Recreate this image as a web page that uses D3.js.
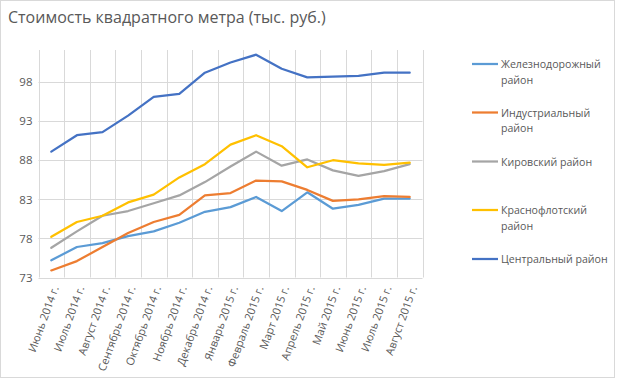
<!DOCTYPE html>
<html><head><meta charset="utf-8">
<script src="https://cdn.jsdelivr.net/npm/d3@7"></script>
<style>body{margin:0;background:#fff}svg{display:block}text{font-family:"Open Sans","Noto Sans",sans-serif}</style>
</head><body><svg id="c" width="618" height="379"></svg>
<script>
const categories = ["Июнь 2014 г.","Июль 2014 г.","Август 2014 г.","Сентябрь 2014 г.","Октябрь 2014 г.","Ноябрь 2014 г.","Декабрь 2014 г.","Январь 2015 г.","Февраль 2015 г.","Март 2015 г.","Апрель 2015 г.","Май 2015 г.","Июнь 2015 г.","Июль 2015 г.","Август 2015 г."];
const seriesNames = ["Железнодорожный район","Индустриальный район","Кировский район","Краснофлотский район","Центральный район"];
const zheleznodorozhny = [75.2,76.9,77.4,78.3,78.9,80.0,81.4,82.0,83.3,81.5,83.9,81.8,82.3,83.1,83.1];
const industrialny = [73.9,75.1,76.9,78.7,80.1,81.0,83.5,83.8,85.4,85.3,84.2,82.8,83.0,83.4,83.3];
const kirovsky = [76.8,78.9,80.9,81.5,82.5,83.5,85.2,87.2,89.1,87.3,88.1,86.7,86.0,86.6,87.5];
const krasnoflotsky = [78.2,80.1,80.9,82.6,83.6,85.8,87.5,90.0,91.2,89.8,87.1,88.0,87.6,87.4,87.7];
const centralny = [89.1,91.2,91.6,93.7,96.1,96.5,99.2,100.5,101.5,99.7,98.6,98.7,98.8,99.2,99.2];
const yTicks = [73,78,83,88,93,98];
const colors = ["#5B9BD5","#ED7D31","#A5A5A5","#FFC000","#4472C4"];
const legendLines = [["Железнодорожный","район"],["Индустриальный","район"],["Кировский район"],["Краснофлотский","район"],["Центральный район"]];

const data = [zheleznodorozhny, industrialny, kirovsky, krasnoflotsky, centralny];
const svg = d3.select("#c");
svg.append("rect").attr("x",0.5).attr("y",0.5).attr("width",614).attr("height",377).attr("fill","#fff").attr("stroke","#d9d9d9");

const L=38.5, R=422.5, T=50, B=277.5;
const x = d3.scaleBand().domain(categories).range([L,R]);
const y = d3.scaleLinear().domain([73,102.1]).range([B,T]);

svg.append("text").attr("x",8).attr("y",23).attr("font-size",16).attr("fill","#595959").text("Стоимость квадратного метра (тыс. руб.)");

const g = svg.append("g");
g.selectAll("line.h").data(yTicks).join("line").attr("x1",L).attr("x2",R)
 .attr("y1",d=>Math.round(y(d))+0.5).attr("y2",d=>Math.round(y(d))+0.5).attr("stroke","#d9d9d9");
const bounds = categories.map(c=>x(c)).concat([R]);
g.selectAll("line.v").data(bounds).join("line").attr("x1",d=>Math.round(d)+0.5).attr("x2",d=>Math.round(d)+0.5)
 .attr("y1",T).attr("y2",B).attr("stroke","#d9d9d9");

const yAxis = d3.axisLeft(y).tickValues(yTicks).tickSize(0).tickPadding(6);
const ya = svg.append("g").attr("transform",`translate(${L},0)`).call(yAxis);
ya.select(".domain").remove();
ya.selectAll("text").attr("font-size",11.5).attr("fill","#595959").attr("font-family","'Open Sans','Noto Sans',sans-serif");

const xa = svg.append("g").attr("transform",`translate(0,${B})`).call(d3.axisBottom(x).tickSize(0));
xa.select(".domain").remove();
xa.selectAll("text").attr("font-size",11).attr("fill","#595959").attr("font-family","'Open Sans','Noto Sans',sans-serif")
 .attr("text-anchor","end").attr("dy","0.35em").attr("transform","translate(4,9) rotate(-70)").attr("y",0).attr("x",0);

const line = d3.line().x((d,i)=>x(categories[i])+x.bandwidth()/2).y(d=>y(d));
svg.selectAll("path.s").data(data).join("path").attr("class","s").attr("d",line)
 .attr("fill","none").attr("stroke",(d,i)=>colors[i]).attr("stroke-width",2.25).attr("stroke-linejoin","round").attr("stroke-linecap","round");

const ly = [64,112.5,161.5,210,259];
const lg = svg.append("g");
seriesNames.forEach((n,i)=>{
  lg.append("line").attr("x1",472).attr("x2",498).attr("y1",ly[i]).attr("y2",ly[i]).attr("stroke",colors[i]).attr("stroke-width",2.25);
  const t = lg.append("text").attr("x",501).attr("y",ly[i]+4).attr("font-size",10.6).attr("fill","#595959");
  legendLines[i].forEach((s,k)=>t.append("tspan").attr("x",501).attr("dy",k?15.5:0).text(s));
});
</script></body></html>
